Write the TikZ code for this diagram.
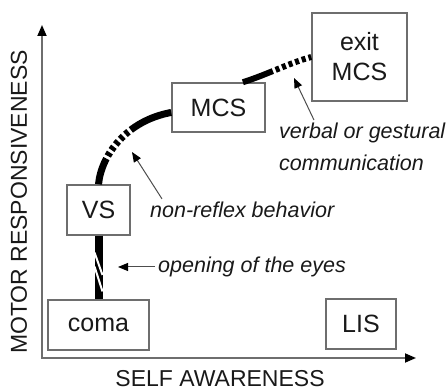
\documentclass[tikz,border=0pt]{standalone}
\usepackage{fontspec}
\setmainfont{Liberation Sans}
\usetikzlibrary{arrows.meta,calc}
\definecolor{ink}{RGB}{25,25,25}
\definecolor{frame}{RGB}{110,110,110}
\begin{document}
\begin{tikzpicture}[x=1pt,y=-1pt,
    state/.style={draw=frame,line width=1.5pt,fill=white,text=ink,inner sep=0pt,
      font=\fontsize{25}{30}\selectfont},
    remark/.style={text=ink,inner sep=3pt,font=\fontsize{21.5}{32}\selectfont\itshape},
    axislabel/.style={text=ink,inner sep=0pt,font=\fontsize{23}{26}\selectfont},
    pointer/.style={draw=frame!70!black,line width=1pt,
      -{Triangle[length=10pt,width=8pt,color=black]}},
    track/.style={black,line width=7pt}]
  \useasboundingbox (0,0) rectangle (448,390);
  \coordinate (o) at (42,358);
  \coordinate (ytop) at (42,25);
  \coordinate (xend) at (416,358);
  \draw[frame,line width=1.8pt,{Triangle[length=11pt,width=9pt,color=black]}-{Triangle[length=11pt,width=9pt,color=black]}]
    (ytop) -- (o) -- (xend);
  \node[axislabel,rotate=90] (ylabel) at (19,202) {MOTOR RESPONSIVENESS};
  \node[axislabel] (xlabel) at (220,378.5) {SELF AWARENESS};

  \node[state,minimum width=101pt,minimum height=50pt] (coma) at (98.5,325) {coma};
  \node[state,minimum width=63pt,minimum height=50pt] (vs) at (98.5,210) {VS};
  \node[state,minimum width=93pt,minimum height=49pt] (mcs) at (218.5,107.5) {MCS};
  \node[state,minimum width=95pt,minimum height=88pt,align=center] (exit) at (359.5,57) {exit\\MCS};
  \node[state,minimum width=70pt,minimum height=50pt] (lis) at (361,324) {LIS};

  \draw[track,line width=8pt] (vs.south) -- (coma.north);
  \coordinate (m) at ($(vs.south)!.5!(coma.north)$);
  \draw[white,line width=2pt] ($(m)+(-4,-15)$) -- ($(m)+(4,7.5)$)
    ($(m)+(-4,-1)$) -- ($(m)+(4,24)$);
  \draw[track,dash pattern=on 27pt off 3pt on 4pt off 3pt on 4pt off 3pt on 4pt off 3pt on 4pt off 3pt on 4pt off 3pt on 200pt]
    (vs.north) .. controls +(3,-30) and +(-44,8) .. (mcs.186);
  \draw[track,line width=6pt,dash pattern=on 32pt off 3pt on 4pt off 3pt on 4pt off 3pt on 4pt off 3pt on 4pt off 3pt on 4pt off 3pt on 100pt]
    (mcs.46) .. controls +(25,-8) and +(-22,6) .. (exit.west);

  \node[remark,anchor=west] (eyes) at (155,267) {opening of the eyes};
  \coordinate (eyestip) at (118,267);
  \draw[pointer] (eyes.west) -- (eyestip);
  \node[remark,anchor=west] (nonreflex) at (147,210) {non-reflex behavior};
  \coordinate (nrtip) at (132,152);
  \draw[pointer] ([xshift=15pt]nonreflex.north west) -- (nrtip);
  \node[remark,anchor=north west,align=left] (verbal) at (276,120) {verbal or gestural\\communication};
  \coordinate (vbtip) at (294,78);
  \draw[pointer] ([xshift=38pt]verbal.north west) -- (vbtip);
\end{tikzpicture}
\end{document}
